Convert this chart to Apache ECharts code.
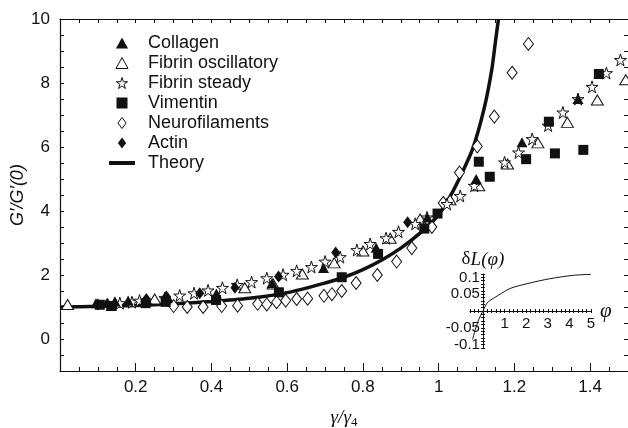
<!DOCTYPE html>
<html>
<head>
<meta charset="utf-8">
<script src="https://cdn.jsdelivr.net/npm/echarts@6.0.0/dist/echarts.min.js"></script>
<style>
  html, body { margin: 0; padding: 0; background: #fff; }
  #chart { width: 628px; height: 428px; }
</style>
</head>
<body>
<div id="chart"></div>
<script>
// data: [gamma/gamma4, G'/G'(0)]
const collagen = [[0.095,1.12],[0.135,1.03],[0.145,1.18],[0.18,1.2],[0.228,1.25],[0.285,1.3],[0.413,1.42],[0.56,1.75],[0.696,2.22],[0.835,2.85],[0.97,3.8],[1.099,5.0],[1.22,6.15],[1.368,7.5]]
const fibrinOsc = [[0.02,1.08],[0.25,1.25],[0.488,1.6],[0.563,1.72],[0.64,2.03],[0.724,2.38],[0.80,2.75],[0.872,3.15],[0.951,3.75],[1.03,4.35],[1.106,4.79],[1.182,5.47],[1.262,6.13],[1.34,6.77],[1.419,7.47],[1.494,8.1]]
const fibrinSteady = [[0.158,1.12],[0.19,1.15],[0.21,1.2],[0.277,1.28],[0.316,1.36],[0.354,1.43],[0.391,1.52],[0.429,1.6],[0.468,1.69],[0.506,1.78],[0.546,1.9],[0.589,2.01],[0.625,2.13],[0.664,2.25],[0.70,2.42],[0.74,2.56],[0.784,2.78],[0.819,2.97],[0.861,3.15],[0.894,3.35],[0.938,3.6],[0.969,3.8],[1.022,4.22],[1.057,4.47],[1.094,4.79],[1.174,5.52],[1.211,5.83],[1.247,6.25],[1.289,6.67],[1.328,7.08],[1.368,7.5],[1.405,7.88],[1.443,8.31],[1.48,8.72]]
const vimentin = [[0.105,1.07],[0.136,1.03],[0.226,1.12],[0.279,1.16],[0.412,1.22],[0.578,1.46],[0.744,1.93],[0.84,2.66],[0.962,3.45],[0.997,3.92],[1.106,5.54],[1.135,5.07],[1.231,5.62],[1.291,6.79],[1.307,5.8],[1.382,5.91],[1.423,8.28]]
const neuro = [[0.30,1.03],[0.336,1.0],[0.378,1.0],[0.427,1.03],[0.469,1.04],[0.522,1.1],[0.546,1.08],[0.572,1.15],[0.596,1.2],[0.625,1.25],[0.654,1.26],[0.697,1.35],[0.718,1.4],[0.744,1.5],[0.782,1.75],[0.838,2.0],[0.889,2.42],[0.929,2.84],[0.982,3.5],[1.012,4.25],[1.055,5.2],[1.102,6.02],[1.147,6.95],[1.194,8.32],[1.237,9.22]]
const actin = [[0.10,1.08],[0.125,1.1],[0.228,1.25],[0.281,1.33],[0.369,1.43],[0.462,1.6],[0.577,1.95],[0.728,2.7],[0.918,3.65]]

const theoryX = [0,0.1,0.2,0.3,0.4,0.5,0.6,0.7,0.75,0.8,0.85,0.9,0.95,1.0,1.03,1.06,1.09,1.12,1.14,1.15,1.158]
const theoryY = [1.0,1.02,1.05,1.1,1.17,1.27,1.45,1.75,1.93,2.17,2.47,2.84,3.3,3.88,4.45,5.15,5.95,7.2,8.4,9.3,10.0]

// inset: deltaL(phi)
const phi = [-0.48,-0.36,-0.2,0,0.18,0.34,0.72,1.26,2.03,3.1,4.18,5.0]
const deltaL = [-0.085,-0.056,-0.026,0,0.023,0.032,0.047,0.067,0.081,0.096,0.106,0.109]

const xLabels = [0.2, 0.4, 0.6, 0.8, 1, 1.2, 1.4]
const yLabels = [0, 2, 4, 6, 8, 10]
const insetXLabels = [1, 2, 3, 4, 5]
const insetYLabels = { '10': '0.1', '5': '0.05', '-5': '-0.05', '-10': '-0.1' }

const ink = '#111'
const sans = 'Liberation Sans'
const serif = 'Liberation Serif'

const STAR = 'path://M50,2 L61,38 L98,38 L68,60 L79,96 L50,74 L21,96 L32,60 L2,38 L39,38 Z'
const TRI = 'path://M5.5,0 L11,10 L0,10 Z'
const SQ = 'path://M0,0 H10 V10 H0 Z'
const DIA = 'path://M4.5,0 L9,6 L4.5,12 L0,6 Z'
const BAR = 'path://M0,0 H26 V4 H0 Z'

const filled = { color: ink, borderColor: ink, borderWidth: 0, opacity: 1 }
const open = { color: '#fff', borderColor: ink, borderWidth: 1, opacity: 1 }

// inset box: phi -0.6..5 over 121px, dL -0.11..0.11 over 74px
const insetBox = { left: 470, right: 37, top: 274, bottom: 80 }
const zeroX = -0.6 / 5.6 * 121   // shift of the dL axis from the box edge to phi = 0
const zeroY = -37                // shift of the phi axis from the box edge to dL = 0

function near(v, list) {
    return list.some(l => Math.abs(v - l) < 1e-6)
}

var chart = echarts.init(document.getElementById('chart'))

var option = {
    animation: false,
    backgroundColor: '#fff',
    grid: [
        { left: 60, right: 0, top: 19, bottom: 57, outerBoundsMode: 'none', containLabel: false },
        Object.assign({ outerBoundsMode: 'none', containLabel: false }, insetBox)
    ],
    legend: {
        orient: 'vertical',
        left: 109,
        top: 33,
        padding: 0,
        itemWidth: 26,
        itemHeight: 11,
        itemGap: 0,
        selectedMode: false,
        textStyle: { color: ink, fontFamily: sans, fontSize: 18, lineHeight: 20, padding: [0, 0, 0, 8] },
        data: [
            { name: 'Collagen', icon: TRI, itemStyle: filled },
            { name: 'Fibrin oscillatory', icon: TRI, itemStyle: open },
            { name: 'Fibrin steady', icon: STAR, itemStyle: open },
            { name: 'Vimentin', icon: SQ, itemStyle: filled },
            { name: 'Neurofilaments', icon: DIA, itemStyle: open },
            { name: 'Actin', icon: DIA, itemStyle: filled },
            { name: 'Theory', icon: BAR, itemStyle: filled }
        ]
    },
    xAxis: [
        {
            type: 'value', gridIndex: 0, position: 'bottom', min: 0, max: 1.5, interval: 0.05,
            axisLine: { onZero: false, lineStyle: { color: ink, width: 1.2 } },
            axisTick: { inside: true, length: 4, lineStyle: { color: ink } },
            splitLine: { show: false },
            axisLabel: {
                color: ink, fontFamily: sans, fontSize: 17, margin: 8,
                formatter: v => near(v, xLabels) ? String(Math.round(v * 10) / 10) : ''
            },
            name: '{a|γ/γ}{b|4}',
            nameLocation: 'middle',
            nameGap: 36,
            nameMoveOverlap: false,
            nameTextStyle: {
                rich: {
                    a: { fontFamily: serif, fontStyle: 'italic', fontSize: 19, color: ink },
                    b: { fontFamily: serif, fontSize: 13, color: ink, padding: [9, 0, 0, 0] }
                }
            }
        },
        {
            type: 'value', gridIndex: 0, position: 'bottom', min: 0, max: 1.5, interval: 0.2,
            axisLine: { show: false, onZero: false },
            axisTick: { inside: true, length: 8, lineStyle: { color: ink } },
            axisLabel: { show: false },
            splitLine: { show: false }
        },
        {
            type: 'value', gridIndex: 0, position: 'top', min: 0, max: 1.5, interval: 0.05,
            axisLine: { onZero: false, lineStyle: { color: ink, width: 1.2 } },
            axisTick: { inside: true, length: 4, lineStyle: { color: ink } },
            axisLabel: { show: false },
            splitLine: { show: false }
        },
        {
            type: 'value', gridIndex: 1, position: 'bottom', offset: zeroY, min: -0.6, max: 5, interval: 0.2,
            axisLine: { onZero: false, lineStyle: { color: ink, width: 1 } },
            axisTick: { inside: false, length: 2, lineStyle: { color: ink } },
            splitLine: { show: false },
            axisLabel: {
                color: ink, fontFamily: sans, fontSize: 15, margin: 5,
                formatter: v => near(v, insetXLabels) ? String(Math.round(v)) : ''
            },
            name: 'φ',
            nameLocation: 'end',
            nameGap: 9,
            nameTextStyle: { fontFamily: serif, fontStyle: 'italic', fontSize: 21, color: ink }
        },
        {
            type: 'value', gridIndex: 1, position: 'bottom', offset: zeroY, min: -0.6, max: 5, interval: 0.2,
            axisLine: { show: false, onZero: false },
            axisTick: { inside: true, length: 2, lineStyle: { color: ink } },
            axisLabel: { show: false },
            splitLine: { show: false }
        }
    ],
    yAxis: [
        {
            type: 'value', gridIndex: 0, position: 'left', min: -1, max: 10, interval: 0.5,
            axisLine: { onZero: false, lineStyle: { color: ink, width: 1.2 } },
            axisTick: { inside: true, length: 4, lineStyle: { color: ink } },
            splitLine: { show: false },
            axisLabel: {
                color: ink, fontFamily: sans, fontSize: 17, margin: 10,
                formatter: v => near(v, yLabels) ? String(Math.round(v)) : ''
            },
            name: 'G′/G′(0)',
            nameLocation: 'middle',
            nameRotate: 90,
            nameGap: 33,
            nameMoveOverlap: false,
            nameTextStyle: { fontFamily: sans, fontStyle: 'italic', fontSize: 18, color: ink }
        },
        {
            type: 'value', gridIndex: 0, position: 'right', min: -1, max: 10, interval: 0.5,
            axisLine: { show: false, onZero: false },
            axisTick: { inside: true, length: 4, lineStyle: { color: ink } },
            axisLabel: { show: false },
            splitLine: { show: false }
        },
        {
            type: 'value', gridIndex: 1, position: 'left', offset: zeroX, min: -0.11, max: 0.11, interval: 0.01,
            axisLine: { onZero: false, lineStyle: { color: ink, width: 1 } },
            axisTick: { inside: false, length: 2, lineStyle: { color: ink } },
            splitLine: { show: false },
            axisLabel: {
                color: ink, fontFamily: sans, fontSize: 15, margin: 3,
                formatter: v => insetYLabels[String(Math.round(v * 100))] || ''
            },
            name: '{d|δ}{l|L}{p|(φ)}',
            nameLocation: 'end',
            nameGap: 5,
            nameTextStyle: {
                rich: {
                    d: { fontFamily: serif, fontSize: 19, color: ink },
                    l: { fontFamily: serif, fontStyle: 'italic', fontSize: 19, color: ink },
                    p: { fontFamily: serif, fontStyle: 'italic', fontSize: 19, color: ink }
                }
            }
        },
        {
            type: 'value', gridIndex: 1, position: 'left', offset: zeroX, min: -0.11, max: 0.11, interval: 0.01,
            axisLine: { show: false, onZero: false },
            axisTick: { inside: true, length: 2, lineStyle: { color: ink } },
            axisLabel: { show: false },
            splitLine: { show: false }
        }
    ],
    series: [
        {
            name: 'Theory', type: 'line', xAxisIndex: 0, yAxisIndex: 0,
            data: theoryX.map((x, i) => [x, theoryY[i]]),
            smooth: 0.25, showSymbol: false, symbol: 'none',
            lineStyle: { color: ink, width: 3.5 }, itemStyle: { color: ink }, z: 1
        },
        { name: 'Neurofilaments', type: 'scatter', data: neuro, symbol: 'diamond', symbolSize: [10, 13], itemStyle: open },
        { name: 'Fibrin oscillatory', type: 'scatter', data: fibrinOsc, symbol: 'triangle', symbolSize: [12, 10], itemStyle: open },
        { name: 'Fibrin steady', type: 'scatter', data: fibrinSteady, symbol: STAR, symbolSize: 12, itemStyle: open },
        { name: 'Collagen', type: 'scatter', data: collagen, symbol: 'triangle', symbolSize: [11, 10], itemStyle: filled },
        { name: 'Vimentin', type: 'scatter', data: vimentin, symbol: 'rect', symbolSize: 10, itemStyle: filled },
        { name: 'Actin', type: 'scatter', data: actin, symbol: 'diamond', symbolSize: [9, 12], itemStyle: filled },
        {
            name: 'deltaL', type: 'line', xAxisIndex: 3, yAxisIndex: 2,
            data: phi.map((p, i) => [p, deltaL[i]]),
            smooth: 0.3, showSymbol: false, symbol: 'none',
            lineStyle: { color: ink, width: 1 }
        }
    ]
}

chart.setOption(option)
</script>
</body>
</html>
